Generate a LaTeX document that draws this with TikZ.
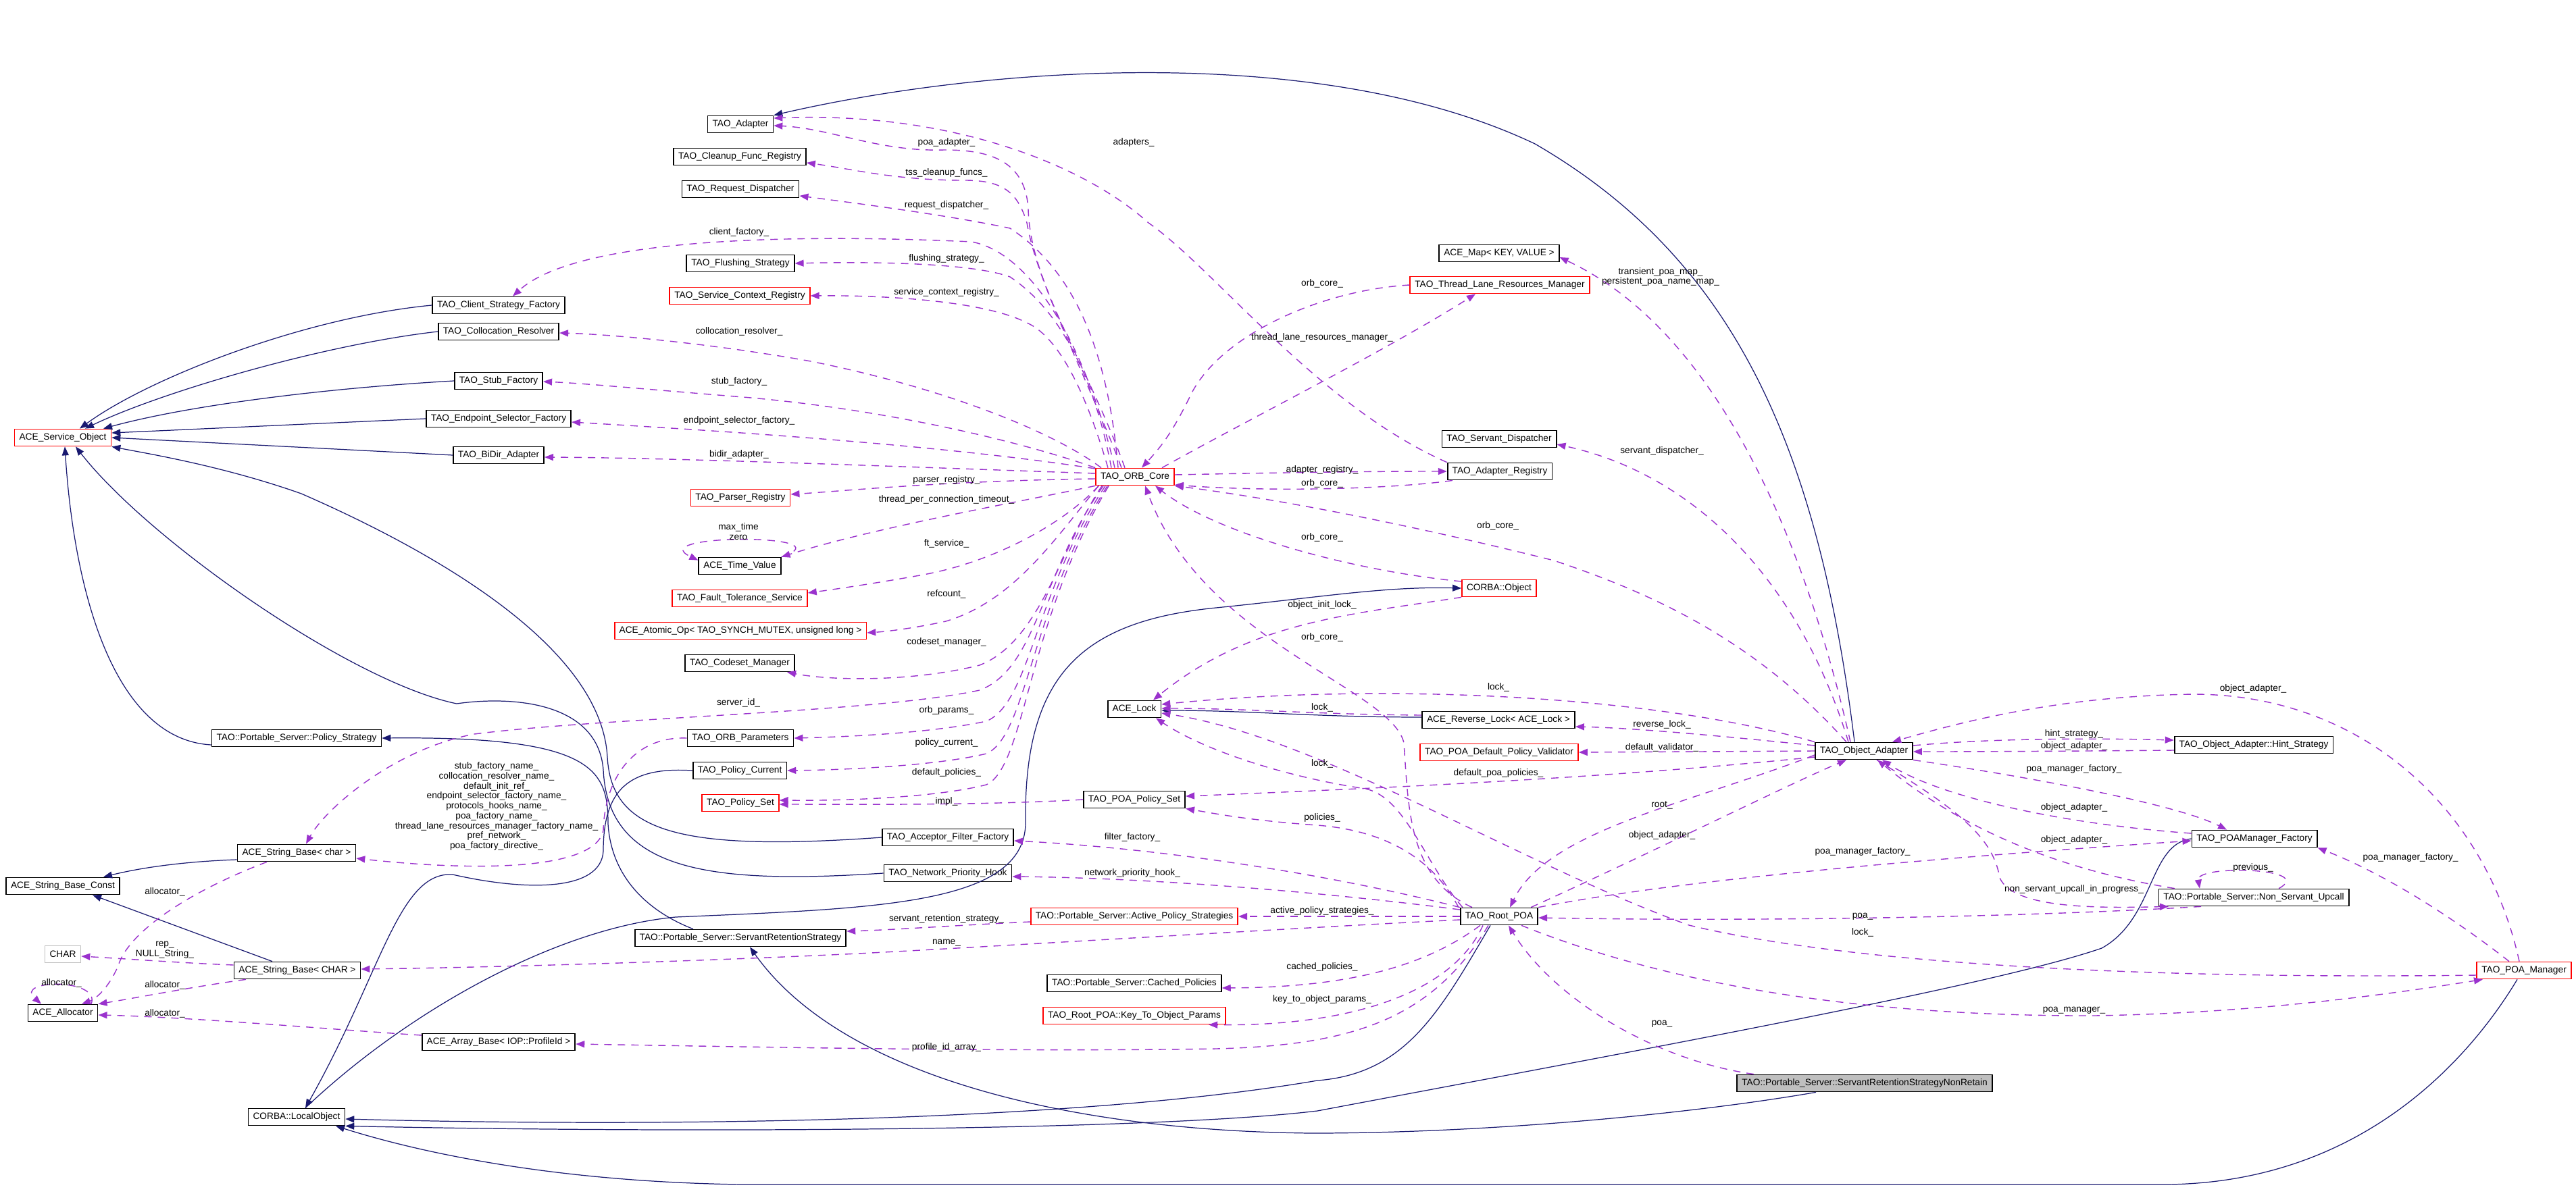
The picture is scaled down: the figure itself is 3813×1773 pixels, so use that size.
\documentclass[tikz,border=0pt]{standalone}
\usepackage{fontspec}
\setmainfont{Liberation Sans}
\usepackage{tikz}
\usetikzlibrary{arrows.meta}
\definecolor{edgeblue}{HTML}{191970}
\definecolor{edgepurple}{HTML}{9A32CD}
\definecolor{boxgray}{HTML}{BFBFBF}
\tikzset{
  cls/.style={draw=black, line width=0.5pt, fill=white, minimum height=0.25cm, inner xsep=0.7mm, inner ysep=0pt, font=\fontsize{3.9pt}{4.2pt}\selectfont},
  clsred/.style={cls, draw=red},
  inh/.style={draw=edgeblue, line width=0.35pt, -{Triangle[length=1.3mm,width=1mm]}},
  use/.style={draw=edgepurple, line width=0.4pt, dash pattern=on 1.1mm off 0.9mm, -{Triangle[length=1.3mm,width=1mm]}},
  lbl/.style={inner sep=0pt, align=center, font=\fontsize{3.9pt}{4.2pt}\selectfont},
}

\begin{document}
\begin{tikzpicture}[x=0.01cm,y=-0.01cm]
\useasboundingbox (0,0) rectangle (3813,1773);

\node[clsred] (aso) at (93,648) {ACE\_Service\_Object};
\node[cls] (csf) at (738,452) {TAO\_Client\_Strategy\_Factory};
\node[cls] (colr) at (738,491) {TAO\_Collocation\_Resolver};
\node[cls] (stubf) at (738,564) {TAO\_Stub\_Factory};
\node[cls] (esf) at (738,620) {TAO\_Endpoint\_Selector\_Factory};
\node[cls] (bidir) at (738,674) {TAO\_BiDir\_Adapter};
\node[cls] (polstrat) at (439,1093) {TAO::Portable\_Server::Policy\_Strategy};
\node[cls] (sbchar) at (439,1263) {ACE\_String\_Base< char >};
\node[cls] (sbconst) at (93,1312) {ACE\_String\_Base\_Const};
\node[cls, draw=boxgray] (charnode) at (93,1413) {CHAR};
\node[cls] (sbCHAR) at (440,1437) {ACE\_String\_Base< CHAR >};
\node[cls] (alloc) at (93,1500) {ACE\_Allocator};
\node[cls] (arrbase) at (738,1543) {ACE\_Array\_Base< IOP::ProfileId >};
\node[cls] (localobj) at (439,1654) {CORBA::LocalObject};
\node[cls] (adapter) at (1096,184) {TAO\_Adapter};
\node[cls] (cleanup) at (1095,232) {TAO\_Cleanup\_Func\_Registry};
\node[cls] (reqdisp) at (1096,280) {TAO\_Request\_Dispatcher};
\node[cls] (flush) at (1096,390) {TAO\_Flushing\_Strategy};
\node[clsred] (svcctx) at (1095,438) {TAO\_Service\_Context\_Registry};
\node[clsred] (parser) at (1096,737) {TAO\_Parser\_Registry};
\node[cls] (timeval) at (1095,838) {ACE\_Time\_Value};
\node[clsred] (ftserv) at (1095,886) {TAO\_Fault\_Tolerance\_Service};
\node[clsred] (atomic) at (1096,934) {ACE\_Atomic\_Op< TAO\_SYNCH\_MUTEX, unsigned long >};
\node[cls] (codeset) at (1095,982) {TAO\_Codeset\_Manager};
\node[cls] (orbparams) at (1096,1093) {TAO\_ORB\_Parameters};
\node[cls] (polcur) at (1095,1141) {TAO\_Policy\_Current};
\node[clsred] (polset) at (1096,1189) {TAO\_Policy\_Set};
\node[cls] (srs) at (1096,1389) {TAO::Portable\_Server::ServantRetentionStrategy};
\node[clsred] (orbcore) at (1680,706) {TAO\_ORB\_Core};
\node[cls] (acelock) at (1679,1050) {ACE\_Lock};
\node[cls] (poapolset) at (1679,1184) {TAO\_POA\_Policy\_Set};
\node[cls] (accfilt) at (1403,1240) {TAO\_Acceptor\_Filter\_Factory};
\node[cls] (nethook) at (1403,1293) {TAO\_Network\_Priority\_Hook};
\node[clsred] (activeps) at (1679,1357) {TAO::Portable\_Server::Active\_Policy\_Strategies};
\node[cls] (cachedpol) at (1679,1456) {TAO::Portable\_Server::Cached\_Policies};
\node[clsred] (keyparams) at (1679,1504) {TAO\_Root\_POA::Key\_To\_Object\_Params};
\node[cls] (acemap) at (2219,375) {ACE\_Map< KEY, VALUE >};
\node[clsred] (tlrm) at (2220,422) {TAO\_Thread\_Lane\_Resources\_Manager};
\node[cls] (servdisp) at (2219,650) {TAO\_Servant\_Dispatcher};
\node[cls] (adreg) at (2220,698) {TAO\_Adapter\_Registry};
\node[clsred] (corbaobj) at (2219,871) {CORBA::Object};
\node[cls] (revlock) at (2218,1066) {ACE\_Reverse\_Lock< ACE\_Lock >};
\node[clsred] (defvalid) at (2219,1114) {TAO\_POA\_Default\_Policy\_Validator};
\node[cls] (rootpoa) at (2219,1357) {TAO\_Root\_POA};
\node[cls] (objadapter) at (2759,1112) {TAO\_Object\_Adapter};
\node[cls, fill=boxgray] (nonretain) at (2760,1604) {TAO::Portable\_Server::ServantRetentionStrategyNonRetain};
\node[cls] (hint) at (3336,1103) {TAO\_Object\_Adapter::Hint\_Strategy};
\node[cls] (poamfact) at (3337,1242) {TAO\_POAManager\_Factory};
\node[cls] (nsupcall) at (3336,1329) {TAO::Portable\_Server::Non\_Servant\_Upcall};
\node[clsred] (poamgr) at (3736,1437) {TAO\_POA\_Manager};

\draw[inh] (csf.west) .. controls (450,470) and (220,560) .. ([xshift=2.5mm]aso.north);
\draw[inh] (colr.west) .. controls (480,510) and (240,580) .. ([xshift=3.3mm]aso.north);
\draw[inh] (stubf.west) .. controls (480,575) and (280,600) .. ([xshift=6mm]aso.north);
\draw[inh] (esf.west) .. controls (450,628) and (280,636) .. ([yshift=0.7mm]aso.east);
\draw[inh] (bidir.west) .. controls (480,664) and (300,655) .. (aso.east);
\draw[inh] ([yshift=-1mm]polstrat.west) .. controls (170,1095) and (110,880) .. ([xshift=0.3mm]aso.south);
\draw[inh] (accfilt.west) .. controls (1000,1262) and (905,1230) .. (899,1121) .. controls (890,960) and (650,820) .. (446,731) .. controls (330,690) and (220,672) .. (aso.south east);
\draw[inh] (nethook.west) .. controls (1050,1310) and (900,1290) .. (893,1140) .. controls (885,1040) and (760,1030) .. (676,1042) .. controls (520,1010) and (220,800) .. ([xshift=1.9mm]aso.south);
\draw[inh] ([xshift=-7mm]srs.north) .. controls (960,1350) and (905,1300) .. (900,1220) .. controls (900,1140) and (880,1090) .. (polstrat.east);
\draw[inh] (polcur.west) .. controls (930,1135) and (893,1170) .. (893,1260) .. controls (890,1320) and (780,1320) .. (670,1295) .. controls (590,1290) and (565,1440) .. ([xshift=1.3mm]localobj.north);
\draw[inh] ([xshift=1.3mm]localobj.north) .. controls (600,1500) and (820,1375) .. (1000,1358) .. controls (1300,1345) and (1515,1340) .. (1518,1220) .. controls (1515,1000) and (1600,920) .. (1800,900) .. controls (1950,885) and (2050,868) .. (corbaobj.west);
\draw[inh] ([xshift=-1.4mm]objadapter.north) .. controls (2690,650) and (2560,380) .. (2272,213) .. controls (1950,60) and (1450,100) .. (adapter.north east);
\draw[inh] ([yshift=0.4mm]revlock.west) .. controls (1950,1062) and (1850,1052) .. ([yshift=-0.2mm]acelock.east);
\draw[inh] ([yshift=-1mm]sbchar.west) .. controls (290,1275) and (220,1282) .. ([xshift=6mm]sbconst.north);
\draw[inh] ([xshift=-3.7mm]sbCHAR.north) -- ([xshift=4.4mm]sbconst.south);
\draw[inh] ([xshift=-7.2mm]nonretain.south) .. controls (2500,1650) and (2200,1678) .. (1942,1678) .. controls (1600,1675) and (1250,1600) .. ([xshift=1.4mm]srs.south);
\draw[inh] ([xshift=-1.3mm]rootpoa.south) .. controls (2130,1500) and (2080,1590) .. (1950,1600) .. controls (1600,1660) and (1000,1670) .. ([yshift=-0.3mm]localobj.east);
\draw[inh] (poamfact.west) .. controls (3180,1250) and (3190,1360) .. (3111,1404) .. controls (2950,1460) and (2400,1560) .. (1950,1645) .. controls (1700,1675) and (1000,1678) .. (localobj.south east);
\draw[inh] ([xshift=-1mm]poamgr.south) .. controls (3660,1560) and (3500,1754) .. (3200,1754) -- (1100,1754) .. controls (800,1750) and (600,1700) .. ([xshift=5.8mm]localobj.south);

\draw[use] ([xshift=-1.5mm]orbcore.north) .. controls (1610,540) and (1525,420) .. (1522,310) .. controls (1518,235) and (1460,222) .. (1398,222) .. controls (1300,225) and (1230,190) .. ([yshift=-0.2mm]adapter.east);
\draw[use] ([xshift=-2mm]orbcore.north) .. controls (1610,560) and (1535,420) .. (1520,330) .. controls (1505,280) and (1480,266) .. (1420,267) .. controls (1320,266) and (1260,250) .. ([yshift=-0.9mm]cleanup.east);
\draw[use] ([xshift=-2.5mm]orbcore.north) .. controls (1640,520) and (1590,400) .. (1495,338) .. controls (1400,318) and (1260,300) .. ([yshift=-1mm]reqdisp.east);
\draw[use] ([xshift=-3mm]orbcore.north) .. controls (1610,520) and (1530,375) .. (1438,358) .. controls (1150,345) and (850,355) .. ([xshift=2.1mm]csf.north);
\draw[use] ([xshift=-3.5mm]orbcore.north) .. controls (1620,560) and (1570,460) .. (1495,410) .. controls (1440,390) and (1300,387) .. (flush.east);
\draw[use] ([xshift=-4mm]orbcore.north) .. controls (1610,590) and (1570,500) .. (1520,478) .. controls (1460,447) and (1320,437) .. (svcctx.east);
\draw[use] ([xshift=-5mm]orbcore.north) .. controls (1560,640) and (1400,575) .. (1200,535) .. controls (1050,508) and (900,495) .. ([yshift=-0.2mm]colr.east);
\draw[use] (orbcore.north west) .. controls (1500,650) and (1300,605) .. (1100,588) .. controls (950,576) and (870,568) .. ([yshift=-0.1mm]stubf.east);
\draw[use] ([yshift=1.2mm]orbcore.west) .. controls (1400,660) and (1100,640) .. ([yshift=-0.5mm]esf.east);
\draw[use] ([yshift=0.5mm]orbcore.west) .. controls (1300,690) and (1000,678) .. ([yshift=-0.3mm]bidir.east);
\draw[use] ([yshift=-0.3mm]orbcore.west) .. controls (1400,712) and (1250,727) .. ([yshift=0.5mm]parser.east);
\draw[use] (orbcore.south west) .. controls (1500,745) and (1300,780) .. (timeval.north east);
\draw[use] (timeval.north east) .. controls (1260,790) and (950,790) .. ([yshift=-0.5mm]timeval.north west);
\draw[use] ([xshift=0.5mm]orbcore.south west) .. controls (1580,770) and (1480,830) .. (1367,851) .. controls (1300,863) and (1240,872) .. ([yshift=0.8mm]ftserv.east);
\draw[use] ([xshift=0.5mm]orbcore.south west) .. controls (1560,800) and (1500,890) .. (1400,920) .. controls (1340,933) and (1300,936) .. ([yshift=-0.3mm]atomic.east);
\draw[use] ([xshift=1mm]orbcore.south west) .. controls (1570,810) and (1540,950) .. (1450,985) .. controls (1350,1010) and (1230,1008) .. ([xshift=7mm]codeset.south);
\draw[use] ([xshift=1.2mm]orbcore.south west) .. controls (1540,850) and (1535,990) .. (1450,1022) .. controls (1300,1055) and (900,1062) .. (702,1087) .. controls (580,1110) and (480,1200) .. ([xshift=1.4mm]sbchar.north);
\draw[use] ([xshift=1.5mm]orbcore.south west) .. controls (1530,880) and (1525,1040) .. (1460,1068) .. controls (1380,1085) and (1260,1091) .. (orbparams.east);
\draw[use] ([xshift=1.8mm]orbcore.south west) .. controls (1525,900) and (1520,1090) .. (1460,1116) .. controls (1390,1133) and (1260,1140) .. (polcur.east);
\draw[use] ([xshift=2mm]orbcore.south west) .. controls (1520,920) and (1518,1135) .. (1460,1162) .. controls (1390,1180) and (1260,1186) .. ([yshift=0.4mm]polset.east);
\draw[use] (poapolset.west) .. controls (1450,1193) and (1250,1191) .. ([yshift=-0.2mm]polset.east);
\draw[use] ([yshift=0.3mm]orbcore.east) .. controls (1900,700) and (2000,698) .. (adreg.west);
\draw[use] ([xshift=-7mm]adreg.south) .. controls (2080,722) and (1900,730) .. ([yshift=-1.2mm]orbcore.east);
\draw[use] ([xshift=4mm]orbcore.north) .. controls (1850,620) and (2050,520) .. ([xshift=-3.6mm]tlrm.south);
\draw[use] (tlrm.west) .. controls (1950,430) and (1800,500) .. (1760,590) .. controls (1735,640) and (1720,660) .. ([xshift=1mm]orbcore.north);
\draw[use] ([xshift=-2.6mm]objadapter.north) .. controls (2600,950) and (2450,880) .. (2300,830) .. controls (2100,780) and (1900,740) .. (orbcore.south east);
\draw[use] ([yshift=1mm]corbaobj.west) .. controls (2000,845) and (1800,790) .. ([xshift=3mm]orbcore.south);
\draw[use] ([xshift=-4mm]rootpoa.north) .. controls (2085,1300) and (2085,1200) .. (2078,1100) .. controls (2060,1020) and (1780,950) .. ([xshift=1.5mm]orbcore.south);
\draw[use] (corbaobj.south west) .. controls (2000,910) and (1850,920) .. ([xshift=2.8mm]acelock.north);
\draw[use] (objadapter.north west) .. controls (2450,1030) and (2050,1010) .. ([yshift=0.7mm]acelock.east);
\draw[use] ([yshift=0.7mm]revlock.west) .. controls (1950,1058) and (1850,1049) .. ([yshift=0.1mm]acelock.east);
\draw[use] ([xshift=-5.4mm]rootpoa.north) .. controls (2110,1280) and (2080,1180) .. (2021,1168) .. controls (1900,1150) and (1780,1110) .. ([xshift=3.2mm]acelock.south);
\draw[use] ([yshift=-0.7mm]poamgr.west) .. controls (3200,1450) and (2750,1430) .. (2500,1370) .. controls (2250,1280) and (1950,1090) .. ([yshift=-0.6mm]acelock.east);
\draw[use] ([yshift=0.8mm]objadapter.west) .. controls (2550,1090) and (2420,1078) .. ([yshift=-1mm]revlock.east);
\draw[use] (objadapter.west) -- (defvalid.east);
\draw[use] ([yshift=-0.9mm]objadapter.west) .. controls (2400,1150) and (2100,1165) .. ([yshift=0.5mm]poapolset.east);
\draw[use] ([xshift=-6mm]rootpoa.north) .. controls (2120,1270) and (2050,1230) .. (1950,1222) .. controls (1850,1215) and (1800,1205) .. (poapolset.south east);
\draw[use] ([yshift=-0.6mm]objadapter.west) .. controls (2500,1190) and (2290,1230) .. ([xshift=1.6mm]rootpoa.north);
\draw[use] ([xshift=4.7mm]rootpoa.north) .. controls (2450,1260) and (2650,1160) .. ([xshift=-2.6mm]objadapter.south);
\draw[use] (rootpoa.west) -- (activeps.east);
\draw[use] (rootpoa.north west) .. controls (1950,1290) and (1700,1255) .. ([yshift=-0.5mm]accfilt.east);
\draw[use] ([yshift=1mm]rootpoa.west) .. controls (1950,1320) and (1700,1300) .. ([yshift=-0.5mm]nethook.east);
\draw[use] ([xshift=-2.8mm]rootpoa.south) .. controls (2110,1430) and (2000,1462) .. ([yshift=-0.7mm]cachedpol.east);
\draw[use] ([xshift=-2.4mm]rootpoa.south) .. controls (2150,1470) and (2000,1520) .. ([xshift=11mm]keyparams.south);
\draw[use] ([xshift=-1.6mm]rootpoa.south) .. controls (2120,1510) and (2000,1548) .. (1800,1553) .. controls (1500,1558) and (1100,1550) .. ([yshift=-0.3mm]arrbase.east);
\draw[use] ([yshift=-0.5mm]rootpoa.west) .. controls (1900,1375) and (1500,1400) .. (1271,1412) .. controls (1000,1425) and (700,1433) .. ([yshift=0.2mm]sbCHAR.east);
\draw[use] ([yshift=-0.8mm]activeps.west) .. controls (1420,1370) and (1320,1377) .. ([yshift=1mm]srs.east);
\draw[use] ([xshift=-16.4mm]nonretain.north) .. controls (2450,1570) and (2300,1480) .. ([xshift=1.4mm]rootpoa.south);
\draw[use] ([xshift=-7.8mm]nsupcall.south) .. controls (3000,1358) and (2600,1365) .. ([yshift=-0.2mm]rootpoa.east);
\draw[use] (rootpoa.north east) .. controls (2500,1300) and (2900,1268) .. ([yshift=-0.3mm]poamfact.west);
\draw[use] ([xshift=3.3mm]rootpoa.south) .. controls (2500,1470) and (2800,1505) .. (3100,1504) .. controls (3350,1500) and (3550,1470) .. ([xshift=-6.1mm]poamgr.south);
\draw[use] ([xshift=-0.7mm]poamgr.north) .. controls (3680,1200) and (3500,1030) .. (3250,1028) .. controls (3050,1030) and (2900,1070) .. ([xshift=4.2mm]objadapter.north);
\draw[use] ([xshift=-2.2mm]poamgr.north) .. controls (3620,1350) and (3520,1290) .. (poamfact.south east);
\draw[use] ([yshift=0.8mm]objadapter.east) .. controls (2950,1093) and (3100,1093) .. ([yshift=0.7mm]hint.west);
\draw[use] ([yshift=-0.8mm]hint.west) .. controls (3100,1112) and (2950,1113) .. ([yshift=-0.1mm]objadapter.east);
\draw[use] (objadapter.south east) .. controls (3000,1150) and (3220,1190) .. ([xshift=-4.1mm]poamfact.north);
\draw[use] ([yshift=0.8mm]poamfact.west) .. controls (3050,1220) and (2870,1180) .. ([xshift=2.7mm]objadapter.south);
\draw[use] ([xshift=-11.7mm]nsupcall.north) .. controls (3000,1280) and (2870,1200) .. ([xshift=2mm]objadapter.south);
\draw[use] ([xshift=1.9mm]objadapter.south) .. controls (2900,1200) and (2950,1240) .. (2960,1300) .. controls (2980,1345) and (3100,1345) .. ([xshift=-12.6mm]nsupcall.south);
\draw[use] ([xshift=3.7mm]nsupcall.north) .. controls (3430,1285) and (3250,1280) .. ([xshift=-8mm]nsupcall.north);
\draw[use] ([xshift=-2mm]objadapter.north) .. controls (2660,750) and (2520,480) .. ([yshift=-0.6mm]acemap.east);
\draw[use] ([xshift=-2.3mm]objadapter.north) .. controls (2660,850) and (2500,700) .. ([yshift=-0.8mm]servdisp.east);
\draw[use] (adreg.north west) .. controls (1950,600) and (1800,400) .. (1700,330) .. controls (1600,240) and (1400,165) .. ([yshift=0.9mm]adapter.east);
\draw[use] ([yshift=0.8mm]sbCHAR.west) .. controls (270,1426) and (190,1420) .. ([yshift=-0.3mm]charnode.east);
\draw[use] ([xshift=-7.6mm]sbCHAR.south) .. controls (280,1462) and (200,1478) .. (alloc.north east);
\draw[use] ([xshift=-4.4mm]sbchar.south) .. controls (280,1320) and (190,1380) .. (175,1430) .. controls (160,1465) and (140,1480) .. ([xshift=2.8mm]alloc.north);
\draw[use] ([yshift=1mm]arrbase.west) .. controls (500,1525) and (280,1506) .. ([yshift=-0.3mm]alloc.east);
\draw[use] ([xshift=4.2mm]alloc.north) .. controls (150,1448) and (20,1450) .. ([xshift=-3.2mm]alloc.north);
\draw[use] (orbparams.west) .. controls (940,1090) and (895,1150) .. (893,1230) .. controls (880,1290) and (700,1290) .. ([yshift=-0.8mm]sbchar.east);

\node[lbl] (tpoaad) at (1401,211) {poa\_adapter\_};
\node[lbl] (tadapters) at (1678,211) {adapters\_};
\node[lbl] (ttss) at (1401,256) {tss\_cleanup\_funcs\_};
\node[lbl] (treqdisp) at (1401,304) {request\_dispatcher\_};
\node[lbl] (tclient) at (1094,344) {client\_factory\_};
\node[lbl] (tflush) at (1401,383) {flushing\_strategy\_};
\node[lbl] (tsvcctx) at (1401,433) {service\_context\_registry\_};
\node[lbl] (tcolr) at (1094,491) {collocation\_resolver\_};
\node[lbl] (tstubf) at (1094,565) {stub\_factory\_};
\node[lbl] (tesf) at (1094,623) {endpoint\_selector\_factory\_};
\node[lbl] (tbidir) at (1094,673) {bidir\_adapter\_};
\node[lbl] (tparser) at (1401,711) {parser\_registry\_};
\node[lbl] (ttpct) at (1401,740) {thread\_per\_connection\_timeout\_};
\node[lbl] (tmaxtime) at (1093,787) {max\_time\\zero};
\node[lbl] (tft) at (1401,805) {ft\_service\_};
\node[lbl] (trefcount) at (1401,880) {refcount\_};
\node[lbl] (tcodeset) at (1401,951) {codeset\_manager\_};
\node[lbl] (tserverid) at (1093,1041) {server\_id\_};
\node[lbl] (torbparams) at (1401,1052) {orb\_params\_};
\node[lbl] (tpolcur) at (1401,1100) {policy\_current\_};
\node[lbl] (tdefpol) at (1401,1144) {default\_policies\_};
\node[lbl] (timpl) at (1401,1187) {impl\_};
\node[lbl] (tnames) at (735,1194) {stub\_factory\_name\_\\collocation\_resolver\_name\_\\default\_init\_ref\_\\endpoint\_selector\_factory\_name\_\\protocols\_hooks\_name\_\\poa\_factory\_name\_\\thread\_lane\_resources\_manager\_factory\_name\_\\pref\_network\_\\poa\_factory\_directive\_};
\node[lbl] (tfilter) at (1676,1240) {filter\_factory\_};
\node[lbl] (tnethook) at (1676,1293) {network\_priority\_hook\_};
\node[lbl] (tsrs) at (1401,1361) {servant\_retention\_strategy\_};
\node[lbl] (tname) at (1401,1396) {name\_};
\node[lbl] (tprofile) at (1401,1551) {profile\_id\_array\_};
\node[lbl] (tactive) at (1957,1349) {active\_policy\_strategies\_};
\node[lbl] (tcached) at (1957,1432) {cached\_policies\_};
\node[lbl] (tkeyparams) at (1957,1480) {key\_to\_object\_params\_};
\node[lbl] (talloca) at (244,1321) {allocator\_};
\node[lbl] (trep) at (244,1407) {rep\_\\NULL\_String\_};
\node[lbl] (tallocb) at (91,1456) {allocator\_};
\node[lbl] (tallocc) at (244,1459) {allocator\_};
\node[lbl] (tallocd) at (244,1501) {allocator\_};
\node[lbl] (torba) at (1957,420) {orb\_core\_};
\node[lbl] (ttlrm) at (1957,500) {thread\_lane\_resources\_manager\_};
\node[lbl] (tadreg) at (1957,696) {adapter\_registry\_};
\node[lbl] (torbb) at (1957,716) {orb\_core\_};
\node[lbl] (torbc) at (2217,779) {orb\_core\_};
\node[lbl] (torbd) at (1957,796) {orb\_core\_};
\node[lbl] (tinitlock) at (1957,896) {object\_init\_lock\_};
\node[lbl] (torbe) at (1957,944) {orb\_core\_};
\node[lbl] (tlocka) at (2218,1018) {lock\_};
\node[lbl] (tlockb) at (1957,1048) {lock\_};
\node[lbl] (tlockc) at (1957,1131) {lock\_};
\node[lbl] (tpolicies) at (1957,1211) {policies\_};
\node[lbl] (trevlock) at (2460,1073) {reverse\_lock\_};
\node[lbl] (tdefvalid) at (2460,1107) {default\_validator\_};
\node[lbl] (tdefpoapol) at (2218,1145) {default\_poa\_policies\_};
\node[lbl] (troot) at (2460,1192) {root\_};
\node[lbl] (toaa) at (2460,1237) {object\_adapter\_};
\node[lbl] (tpoamap) at (2458,410) {transient\_poa\_map\_\\persistent\_poa\_name\_map\_};
\node[lbl] (tservdisp) at (2460,668) {servant\_dispatcher\_};
\node[lbl] (tpmfa) at (2757,1261) {poa\_manager\_factory\_};
\node[lbl] (tpoaa) at (2757,1357) {poa\_};
\node[lbl] (tlockd) at (2757,1381) {lock\_};
\node[lbl] (tpoab) at (2460,1516) {poa\_};
\node[lbl] (toab) at (3335,1020) {object\_adapter\_};
\node[lbl] (thint) at (3070,1087) {hint\_strategy\_};
\node[lbl] (toac) at (3070,1105) {object\_adapter\_};
\node[lbl] (tpmfb) at (3070,1139) {poa\_manager\_factory\_};
\node[lbl] (toad) at (3070,1196) {object\_adapter\_};
\node[lbl] (toae) at (3070,1244) {object\_adapter\_};
\node[lbl] (tpmfc) at (3568,1270) {poa\_manager\_factory\_};
\node[lbl] (tprevious) at (3335,1285) {previous\_};
\node[lbl] (tnsu) at (3070,1317) {non\_servant\_upcall\_in\_progress\_};
\node[lbl] (tpoamgr) at (3070,1496) {poa\_manager\_};
\end{tikzpicture}
\end{document}
